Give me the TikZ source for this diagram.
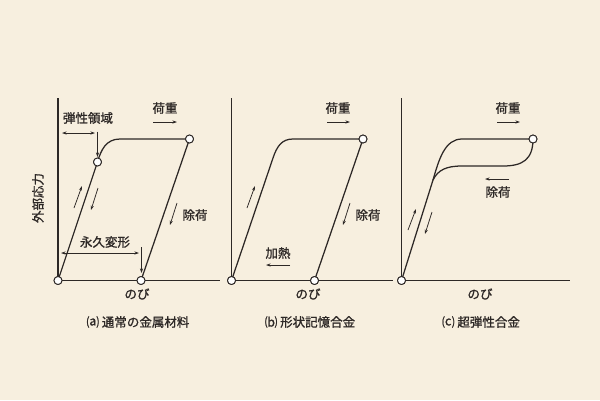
\documentclass[tikz,border=0pt]{standalone}
\usepackage{fontspec}
\setmainfont{Noto Sans CJK JP}[FakeBold=1.2]
\usetikzlibrary{arrows.meta}
\definecolor{bg}{RGB}{247,239,223}
\definecolor{ink}{RGB}{45,40,38}
\tikzset{
  curve/.style={draw=ink, line width=1.25pt},
  axis/.style={draw=ink, line width=1.1pt},
  pt/.style={circle, draw=ink, fill=white, line width=0.9pt, inner sep=0pt, minimum size=8pt},
  lbl/.style={text=ink, font=\fontsize{12.5}{14}\selectfont, inner sep=0pt},
  captext/.style={text=ink, font=\fontsize{12.5}{14}\selectfont, inner sep=0pt},
  sarrow/.style={draw=ink, line width=0.75pt, -{Stealth[length=4.5pt,width=3pt]}},
  darrow/.style={draw=ink, line width=0.75pt, {Stealth[length=4.5pt,width=3pt]}-{Stealth[length=4.5pt,width=3pt]}},
}
\begin{document}
\begin{tikzpicture}[x=1pt,y=-1pt]
\fill[bg] (0,0) rectangle (600,400);
\useasboundingbox (0,0) rectangle (600,400);

% ---------- panel (a) ----------
\coordinate (aTop) at (58,98);
\coordinate (aEnd) at (220,280.5);
\node[pt] (a0) at (58,280.5) {};
\node[pt] (a1) at (97.5,162) {};
\node[pt] (a2) at (189.5,139) {};
\node[pt] (a3) at (141,280.5) {};
\draw[axis] (aTop) -- (a0.center) -- (aEnd);
\draw[curve] (a0.center) -- (a1.center) .. controls (101,150) and (106,139) .. (120,139) -- (a2.center) -- (a3.center);
\node[pt] at (a0) {};
\node[pt] at (a1) {};
\node[pt] at (a2) {};
\node[pt] at (a3) {};

\node[lbl] (aEl) at (88,118) {弾性領域};
\coordinate (aEl1) at (62,133); \coordinate (aEl2) at (95,133);
\draw[darrow] (aEl1) -- (aEl2);
\coordinate (aEl3) at (97.5,131.5); \coordinate (aEl4) at (97.5,157);
\draw[sarrow] (aEl3) -- (aEl4);

\node[lbl] (aLoad) at (165,108) {荷重};
\coordinate (aL1) at (153,122); \coordinate (aL2) at (177,122);
\draw[sarrow] (aL1) -- (aL2);

\coordinate (aU1) at (74,208); \coordinate (aU2) at (82,186);
\draw[sarrow] (aU1) -- (aU2);
\coordinate (aD1) at (98,188); \coordinate (aD2) at (91,210);
\draw[sarrow] (aD1) -- (aD2);

\node[lbl] (aUnl) at (195,215) {除荷};
\coordinate (aR1) at (177,203); \coordinate (aR2) at (170,225);
\draw[sarrow] (aR1) -- (aR2);

\node[lbl] (aPerm) at (105,242) {永久変形};
\coordinate (aP1) at (61,253); \coordinate (aP2) at (139,253);
\draw[darrow] (aP1) -- (aP2);
\coordinate (aP3) at (141.5,247); \coordinate (aP4) at (141.5,273);
\draw[sarrow] (aP3) -- (aP4);

\node[lbl, rotate=90] (aY) at (38,198) {外部応力};
\node[lbl] (aX) at (137,294) {のび};
\node[captext] (aCap) at (138,322) {⒜ 通常の金属材料};

% ---------- panel (b) ----------
\coordinate (bTop) at (231.5,98);
\coordinate (bEnd) at (393,280.5);
\node[pt] (b0) at (231.5,280.5) {};
\node[pt] (b2) at (363,139) {};
\node[pt] (b3) at (314.5,280.5) {};
\draw[axis] (bTop) -- (b0.center) -- (bEnd);
\draw[curve] (b0.center) -- (273,158) .. controls (277,146) and (282,139) .. (293,139) -- (b2.center) -- (b3.center);
\node[pt] at (b0) {};
\node[pt] at (b2) {};
\node[pt] at (b3) {};

\node[lbl] (bLoad) at (338,108) {荷重};
\coordinate (bL1) at (327,122); \coordinate (bL2) at (350,122);
\draw[sarrow] (bL1) -- (bL2);
\coordinate (bU1) at (247,208); \coordinate (bU2) at (255,186);
\draw[sarrow] (bU1) -- (bU2);
\node[lbl] (bUnl) at (368,215) {除荷};
\coordinate (bR1) at (350,203); \coordinate (bR2) at (343,225);
\draw[sarrow] (bR1) -- (bR2);
\node[lbl] (bHeat) at (278,253) {加熱};
\coordinate (bH1) at (290,265); \coordinate (bH2) at (266,265);
\draw[sarrow] (bH1) -- (bH2);
\node[lbl] (bX) at (308,294) {のび};
\node[captext] (bCap) at (310,322) {⒝ 形状記憶合金};

% ---------- panel (c) ----------
\coordinate (cTop) at (401.5,98);
\coordinate (cEnd) at (570,280.5);
\node[pt] (c0) at (401.5,280.5) {};
\node[pt] (c2) at (533,139) {};
\coordinate (cK) at (433,180);
\draw[axis] (cTop) -- (c0.center) -- (cEnd);
\draw[curve] (c0.center) -- (cK) .. controls (439,159) and (445,139) .. (462,139) -- (c2.center);
\draw[curve] (cK) .. controls (438,170) and (446,166) .. (462,166) -- (503,166) .. controls (522,166) and (533,160) .. (c2.center);
\node[pt] at (c0) {};
\node[pt] at (c2) {};

\node[lbl] (cLoad) at (508,108) {荷重};
\coordinate (cL1) at (497,122); \coordinate (cL2) at (520,122);
\draw[sarrow] (cL1) -- (cL2);
\node[lbl] (cUnl) at (498,192) {除荷};
\coordinate (cR1) at (509,179); \coordinate (cR2) at (485,179);
\draw[sarrow] (cR1) -- (cR2);
\coordinate (cU1) at (408,230); \coordinate (cU2) at (416,209);
\draw[sarrow] (cU1) -- (cU2);
\coordinate (cD1) at (432,212); \coordinate (cD2) at (425,234);
\draw[sarrow] (cD1) -- (cD2);
\node[lbl] (cX) at (480,294) {のび};
\node[captext] (cCap) at (481,322) {⒞ 超弾性合金};
\end{tikzpicture}
\end{document}
